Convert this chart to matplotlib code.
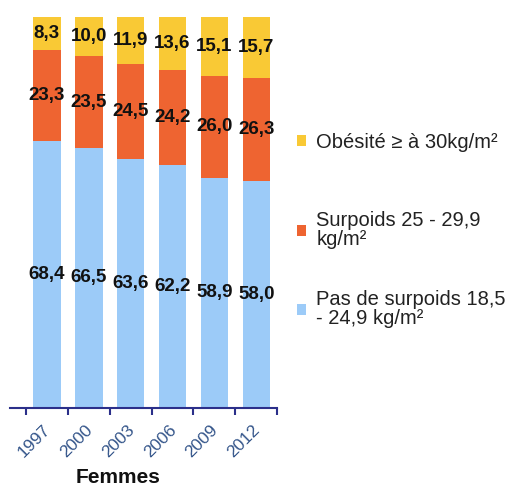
import numpy as np
import matplotlib
matplotlib.use('Agg')
import matplotlib.pyplot as plt
import matplotlib.transforms as mtransforms
from matplotlib.patches import Patch

plt.rcParams['font.family'] = ['Liberation Sans', 'DejaVu Sans']

years = ['1997', '2000', '2003', '2006', '2009', '2012']
normal = [68.4, 66.5, 63.6, 62.2, 58.9, 58.0]
surpoids = [23.3, 23.5, 24.5, 24.2, 26.0, 26.3]
obesite = [8.3, 10.0, 11.9, 13.6, 15.1, 15.7]

series = [
    (normal, '#9ccbf8', 'Pas de surpoids 18,5\n- 24,9 kg/m²'),
    (surpoids, '#ee6431', 'Surpoids 25 - 29,9\nkg/m²'),
    (obesite, '#f9c935', 'Obésité ≥ à 30kg/m²'),
]

fig = plt.figure(figsize=(5.13, 4.88), dpi=100)
ax = fig.add_axes([0.0195, 0.164, 0.521, 0.801])

x = np.arange(len(years))
bottom = np.zeros(len(years))
for vals, color, label in series:
    vals = np.array(vals)
    ax.bar(x, vals, bottom=bottom, width=0.66, color=color, edgecolor='none')
    for xi, b, v in zip(x, bottom, vals):
        ax.text(xi, b + v / 2, f'{v:.1f}'.replace('.', ','), ha='center', va='center',
                fontsize=13.5, fontweight='bold', color='#111111')
    bottom += vals

ax.set_xlim(-0.88, 5.48)
ax.set_ylim(0, 100)
for s in ['left', 'right', 'top']:
    ax.spines[s].set_visible(False)
ax.spines['bottom'].set_color('#2b2f8a')
ax.spines['bottom'].set_linewidth(1.5)
ax.set_yticks([])

ax.set_xticks(x)
ax.set_xticklabels(years, rotation=45, ha='right', rotation_mode='anchor',
                   fontsize=12.5, color='#34558a')
ax.tick_params(axis='x', which='major', length=0, pad=8)
shift = mtransforms.ScaledTranslation(-4 / 100, -3 / 100, fig.dpi_scale_trans)
for t in ax.get_xticklabels():
    t.set_transform(t.get_transform() + shift)
ax.set_xticks(np.arange(len(years) + 1) - 0.5, minor=True)
ax.tick_params(axis='x', which='minor', length=5, width=1.5, color='#2b2f8a')

fig.text(0.23, 0.002, 'Femmes', ha='center', va='bottom', fontsize=15,
         fontweight='bold', color='#111111')

# legend entries, top to bottom
leg_y = [0.709, 0.529, 0.367]
for (vals, color, label), ly in zip(series[::-1], leg_y):
    lg = fig.legend([Patch(facecolor=color)], [label], loc='center left',
                    bbox_to_anchor=(0.544, ly), frameon=False, fontsize=14.5,
                    handlelength=0.45, handleheight=0.45, handletextpad=0.5,
                    labelcolor='#222222')
    for t in lg.get_texts():
        t.set_linespacing(1.0)

fig.savefig('out.png', dpi=100)
